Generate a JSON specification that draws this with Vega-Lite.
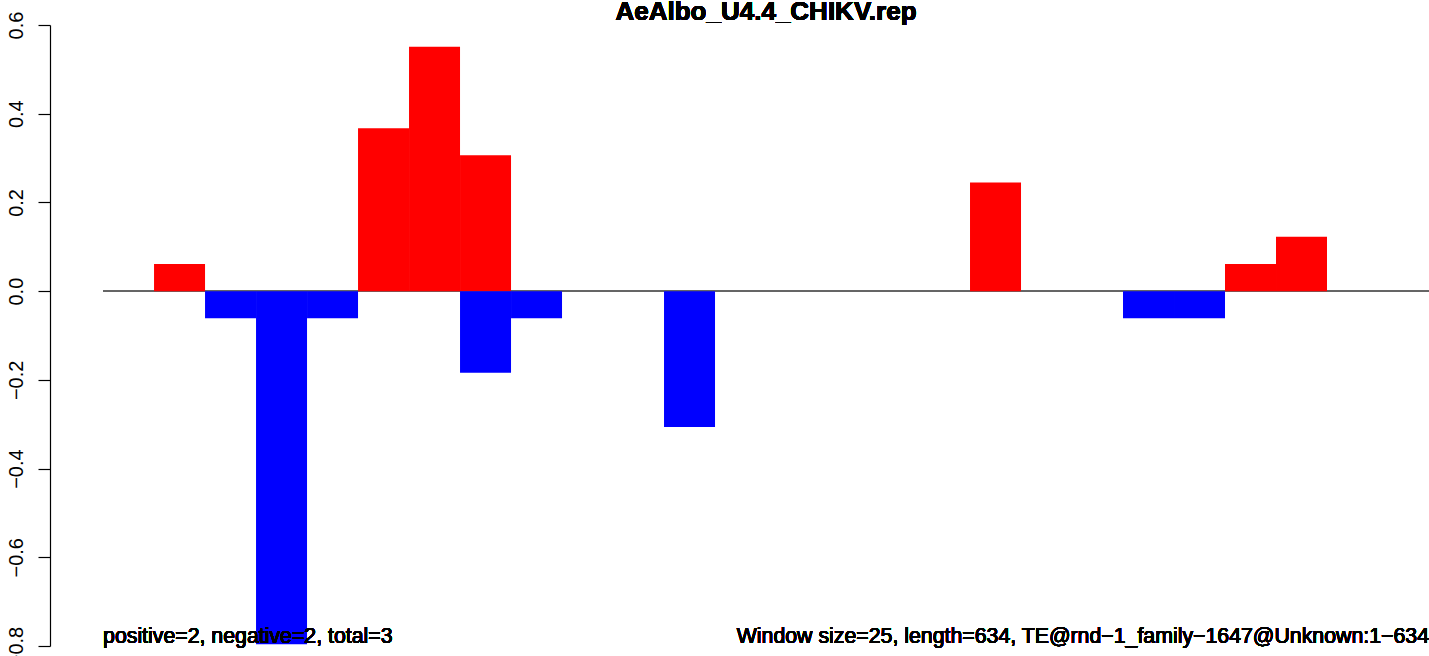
{
  "$schema": "https://vega.github.io/schema/vega-lite/v6.json",
  "autosize": {"type": "none"},
  "padding": {"left": 50, "top": 25, "right": 0, "bottom": 10},
  "width": 1379,
  "height": 621,
  "background": "white",
  "config": {"view": {"stroke": null}},
  "data": {
    "values": [
      {"win_start": 1, "win_end": 2, "value": 0.0612, "sign": "positive"},
      {"win_start": 2, "win_end": 3, "value": -0.0612, "sign": "negative"},
      {"win_start": 3, "win_end": 4, "value": -0.7959, "sign": "negative"},
      {"win_start": 4, "win_end": 5, "value": -0.0612, "sign": "negative"},
      {"win_start": 5, "win_end": 6, "value": 0.3673, "sign": "positive"},
      {"win_start": 6, "win_end": 7, "value": 0.551, "sign": "positive"},
      {"win_start": 7, "win_end": 8, "value": 0.3061, "sign": "positive"},
      {"win_start": 7, "win_end": 8, "value": -0.1837, "sign": "negative"},
      {"win_start": 8, "win_end": 9, "value": -0.0612, "sign": "negative"},
      {"win_start": 11, "win_end": 12, "value": -0.3061, "sign": "negative"},
      {"win_start": 17, "win_end": 18, "value": 0.2449, "sign": "positive"},
      {"win_start": 20, "win_end": 21, "value": -0.0612, "sign": "negative"},
      {"win_start": 21, "win_end": 22, "value": -0.0612, "sign": "negative"},
      {"win_start": 22, "win_end": 23, "value": 0.0612, "sign": "positive"},
      {"win_start": 23, "win_end": 24, "value": 0.1224, "sign": "positive"}
    ]
  },
  "layer": [
    {
      "mark": {"type": "rule", "color": "#666666", "strokeWidth": 1.2},
      "encoding": {
        "x": {"datum": 0, "type": "quantitative", "scale": {"domain": [-1.04, 26], "nice": false, "zero": false}, "axis": null},
        "x2": {"datum": 26},
        "y": {"datum": 0, "type": "quantitative"}
      }
    },
    {
      "mark": {"type": "bar", "stroke": null},
      "encoding": {
        "x": {"field": "win_start", "type": "quantitative", "scale": {"domain": [-1.04, 26], "nice": false, "zero": false}, "axis": null},
        "x2": {"field": "win_end"},
        "y": {
          "field": "value",
          "type": "quantitative",
          "scale": {"domain": [-0.8, 0.6], "nice": false, "zero": false},
          "axis": {
            "orient": "left",
            "values": [-0.8, -0.6, -0.4, -0.2, 0, 0.2, 0.4, 0.6],
            "format": ".1f",
            "title": null,
            "grid": false,
            "domainColor": "black",
            "domainWidth": 1.2,
            "tickColor": "black",
            "tickWidth": 1.2,
            "tickSize": 12,
            "labelAngle": 270,
            "labelAlign": "center",
            "labelBaseline": "alphabetic",
            "labelPadding": 16,
            "labelFont": "Liberation Sans",
            "labelFontSize": 20,
            "labelColor": "black",
            "labelOverlap": false,
            "labelFlush": false,
            "labelBound": false
          }
        },
        "y2": {"datum": 0},
        "color": {
          "field": "sign",
          "type": "nominal",
          "scale": {"domain": ["positive", "negative"], "range": ["#FF0000", "#0000FF"]},
          "legend": null
        }
      }
    },
    {
      "mark": {"type": "text", "align": "center", "baseline": "alphabetic", "font": "Liberation Sans", "fontSize": 26, "fontWeight": "bold", "color": "black"},
      "encoding": {
        "x": {"datum": 13, "type": "quantitative"},
        "y": {"datum": 0.6112, "type": "quantitative"},
        "text": {"value": "AeAlbo_U4.4_CHIKV.rep"}
      }
    },
    {
      "mark": {"type": "text", "align": "left", "baseline": "alphabetic", "font": "Liberation Sans", "fontSize": 21.3, "fontWeight": "normal", "color": "black"},
      "encoding": {
        "x": {"datum": 0, "type": "quantitative"},
        "y": {"datum": -0.794, "type": "quantitative"},
        "text": {"value": "positive=2, negative=2, total=3"}
      }
    },
    {
      "mark": {"type": "text", "align": "right", "baseline": "alphabetic", "font": "Liberation Sans", "fontSize": 21.3, "fontWeight": "normal", "color": "black"},
      "encoding": {
        "x": {"datum": 26, "type": "quantitative"},
        "y": {"datum": -0.794, "type": "quantitative"},
        "text": {"value": "Window size=25, length=634, TE@rnd−1_family−1647@Unknown:1−634"}
      }
    }
  ]
}
